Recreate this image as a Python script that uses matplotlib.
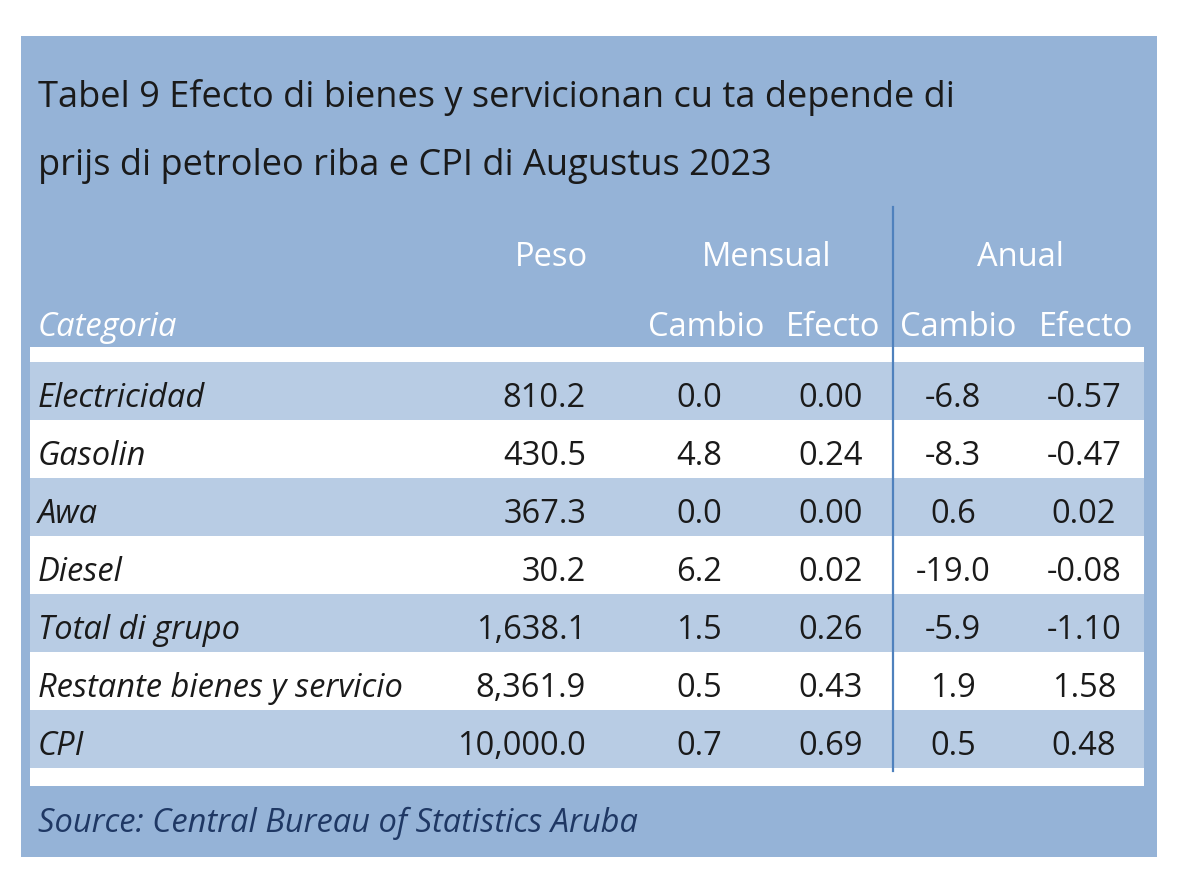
import matplotlib
matplotlib.use("Agg")
import matplotlib.pyplot as plt
from matplotlib.patches import Rectangle

# --- data ---
title_lines = ["Tabel 9 Efecto di bienes y servicionan cu ta depende di",
               "prijs di petroleo riba e CPI di Augustus 2023"]
categories = ["Electricidad", "Gasolin", "Awa", "Diesel", "Total di grupo",
              "Restante bienes y servicio", "CPI"]
peso = ["810.2", "430.5", "367.3", "30.2", "1,638.1", "8,361.9", "10,000.0"]
mensual_cambio = ["0.0", "4.8", "0.0", "6.2", "1.5", "0.5", "0.7"]
mensual_efecto = ["0.00", "0.24", "0.00", "0.02", "0.26", "0.43", "0.69"]
anual_cambio = ["-6.8", "-8.3", "0.6", "-19.0", "-5.9", "1.9", "0.5"]
anual_efecto = ["-0.57", "-0.47", "0.02", "-0.08", "-1.10", "1.58", "0.48"]
source = "Source: Central Bureau of Statistics Aruba"

# colores
OUTER = "#95b3d7"
LIGHT = "#b8cce4"
LINE = "#4f81bd"
TXT = "#1a1a1a"
SRC = "#1f3864"

plt.rcParams['font.family'] = ['Open Sans', 'DejaVu Sans']

fig = plt.figure(figsize=(12, 8.92), dpi=100)
ax = fig.add_axes([0, 0, 1, 1])
ax.set_xlim(0, 1200)
ax.set_ylim(892, 0)
ax.axis("off")

# panel
ax.add_patch(Rectangle((21, 36), 1136, 821, color=OUTER, lw=0))

# title
ax.text(38, 107, title_lines[0], fontsize=26, color=TXT, va="baseline")
ax.text(38, 175, title_lines[1], fontsize=26, color=TXT, va="baseline")

# headers
hs = 23.5
ax.text(551, 266, "Peso", fontsize=hs, color="white", ha="center", va="baseline")
ax.text(767, 266, "Mensual", fontsize=hs, color="white", ha="center", va="baseline")
ax.text(1020, 266, "Anual", fontsize=hs, color="white", ha="center", va="baseline")
ax.text(38, 336, "Categoria", fontsize=hs, color="white", style="italic", va="baseline")
for x, lab in [(706, "Cambio"), (833, "Efecto"), (958, "Cambio"), (1086, "Efecto")]:
    ax.text(x, 336, lab, fontsize=hs, color="white", ha="center", va="baseline")

# table body
left, right = 30, 1144
top = 362
rh = 58
ax.add_patch(Rectangle((left, 347), right - left, top - 347, color="white", lw=0))
for i in range(len(categories)):
    y0 = top + i * rh
    ax.add_patch(Rectangle((left, y0), right - left, rh,
                           color=LIGHT if i % 2 == 0 else "white", lw=0))
    yb = y0 + 45
    ax.text(38, yb, categories[i], fontsize=hs, color=TXT, style="italic", va="baseline")
    ax.text(586, yb, peso[i], fontsize=hs, color=TXT, ha="right", va="baseline")
    ax.text(699, yb, mensual_cambio[i], fontsize=hs, color=TXT, ha="center", va="baseline")
    ax.text(831, yb, mensual_efecto[i], fontsize=hs, color=TXT, ha="center", va="baseline")
    ax.text(953, yb, anual_cambio[i], fontsize=hs, color=TXT, ha="center", va="baseline")
    ax.text(1084, yb, anual_efecto[i], fontsize=hs, color=TXT, ha="center", va="baseline")
bottom = top + len(categories) * rh
ax.add_patch(Rectangle((left, bottom), right - left, 18, color="white", lw=0))

# separator line
ax.plot([893, 893], [207, bottom + 3], color=LINE, lw=1.6)

# source
ax.text(38, 832, source, fontsize=hs, color=SRC, style="italic", va="baseline")

fig.savefig("out.png", dpi=100, facecolor="white")
